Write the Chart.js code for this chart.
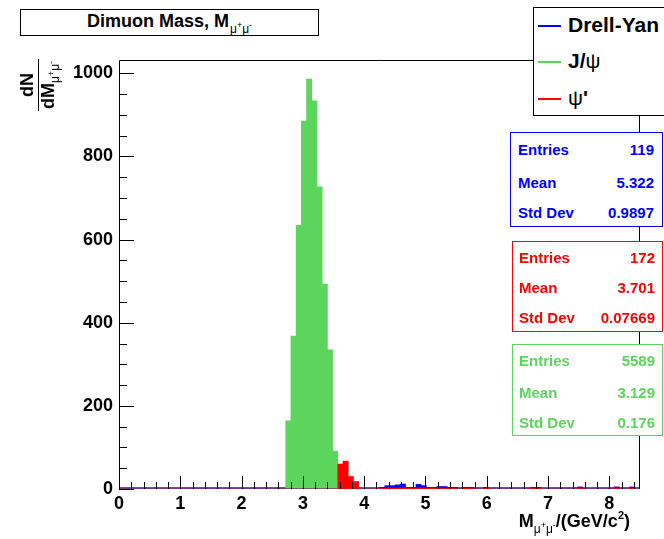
<!DOCTYPE html>
<html><head><meta charset="utf-8">
<script src="https://cdn.jsdelivr.net/npm/chart.js@4/dist/chart.umd.min.js"></script>
<style>
html,body{margin:0;padding:0;background:#fff;}
#wrap{position:relative;width:664px;height:539px;overflow:hidden;font-family:"Liberation Sans",Arial,Helvetica,sans-serif;font-weight:bold;color:#000;}
canvas{position:absolute;left:0;top:0;}
.box{position:absolute;background:#fff;box-sizing:border-box;}
.row{position:absolute;left:0;right:0;height:18px;font-size:15px;line-height:18px;white-space:nowrap;}
.row .k{position:absolute;}
.row .v{position:absolute;}
.sm{font-size:12px;font-weight:normal;position:relative;}
.sp{font-size:9px;position:relative;top:-5px;}
.lg{position:absolute;left:0;right:0;height:24px;font-size:21px;line-height:24px;white-space:nowrap;}
.lg .ln{position:absolute;left:4px;width:23px;height:1.5px;top:12px;}
.lg .tx{position:absolute;left:34px;}
</style>
</head><body>
<div id="wrap">
<canvas id="c" width="664" height="539"></canvas>

<div class="box" style="left:20px;top:9px;width:299px;height:27px;border:1px solid #000;">
  <div style="position:absolute;left:0;right:0;top:1px;text-align:center;font-size:18px;line-height:20px;white-space:nowrap;">Dimuon Mass, M<span class="sm" style="top:6px;margin-left:1px;">&mu;<span class="sp">+</span>&mu;<span class="sp">-</span></span></div>
</div>

<div id="legend" class="box" style="left:533px;top:7px;width:150px;height:109px;border:1px solid #000;"></div>
<div id="stats"></div>

<div style="position:absolute;left:10px;top:65px;width:56px;height:40px;transform:rotate(-90deg);transform-origin:28px 20px;">
  <div style="position:absolute;left:0;right:0;top:0;height:19px;text-align:center;font-size:18px;line-height:19px;">dN</div>
  <div style="position:absolute;left:2px;right:2px;top:20px;height:1px;background:#000;"></div>
  <div style="position:absolute;left:0;right:0;top:21px;height:19px;text-align:center;font-size:18px;line-height:19px;white-space:nowrap;">dM<span class="sm" style="top:5px;">&mu;<span class="sp">+</span>&mu;<span class="sp">-</span></span></div>
</div>

<div style="position:absolute;right:34px;top:511px;font-size:18px;line-height:20px;white-space:nowrap;">M<span class="sm" style="top:6px;">&mu;<span class="sp">+</span>&mu;<span class="sp">-</span></span>/(GeV/c<span style="font-size:11px;position:relative;top:-8px;">2</span>)</div>
</div>

<script>
// ---- data ----
const nBins = 100;
const xMin = 0, xMax = 8.5;
const xTickLabels = ["0","1","2","3","4","5","6","7","8"];
const yTickValues = [0,200,400,600,800,1000];

// J/psi: bins 32..41
const jpsiBins   = [32,33,34,35,36,37,38,39,40,41];
const jpsiCounts = [164,368,634,885,986,934,727,493,335,91];

// psi': main peak bins 42..45 plus small counts further out
const psiBins   = [42,43,44,45,50,51,52,53,54,55,56,57,58,59,60,61,62,63,64,66,67,70,79,80,88,95,98];
const psiCounts = [60,67,30,18,2.5,2.5,2.5,2.5,2.5,2.5,2.5,2.5,2.5,2.5,2.5,2.5,2.5,2.5,2.5,2.5,2.5,2.5,2.5,2.5,2.5,2.5,2.5];

// Drell-Yan
const dyBins   = [50,51,52,53,54,55,56,57,58,59,60,61,62,63,64,66,67,70,79,80,88,95,98];
const dyCounts = [4,8,8,10,12,4,4,11,8,4,4,6,6,4,4,4,4,4,4,4,5,5,5];

const seriesNames = ["Drell-Yan","J/\u03c8","\u03c8'"];
const seriesColors = ["#0000ff","#5bd55b","#ff0000"];

const statLabels = ["Entries","Mean","Std Dev"];
const statsDY   = ["119","5.322","0.9897"];
const statsPsi2 = ["172","3.701","0.07669"];
const statsJpsi = ["5589","3.129","0.176"];

// ---- build full histograms ----
function fill(bins, counts){
  const a = new Array(nBins).fill(0);
  bins.forEach((b,i)=>{ a[b] = counts[i]; });
  return a;
}
const binLabels = [];
for (let i=0;i<nBins;i++) binLabels.push((xMin + i*(xMax-xMin)/nBins).toFixed(3));

Chart.defaults.font.family = '"Liberation Sans", Arial, Helvetica, sans-serif';
Chart.defaults.font.weight = 'bold';
Chart.defaults.font.size = 18;
Chart.defaults.color = '#000';

const decor = {
  id:'decor',
  beforeDatasetsDraw(chart){
    const {ctx, chartArea:a, scales} = chart;
    const y0 = scales.y.getPixelForValue(0);
    ctx.save();
    ctx.strokeStyle = '#4d4dff'; ctx.lineWidth = 2;
    ctx.beginPath(); ctx.moveTo(a.left, y0-1); ctx.lineTo(a.right, y0-1); ctx.stroke();
    ctx.restore();
  },
  afterDatasetsDraw(chart){
    const {ctx, chartArea:a, scales} = chart;
    const xs = scales.xv, ys = scales.y;
    const y0 = ys.getPixelForValue(0);
    ctx.save();
    ctx.strokeStyle = '#000'; ctx.lineWidth = 1;
    ctx.beginPath();
    // frame
    ctx.moveTo(a.left+0.5, a.bottom); ctx.lineTo(a.left+0.5, a.top+0.5);
    ctx.lineTo(a.right-0.5, a.top+0.5); ctx.lineTo(a.right-0.5, a.bottom);
    // x ticks
    for (let k=0;k<=42;k++){
      const v = k*0.2;
      if (v > xMax) break;
      const px = Math.round(xs.getPixelForValue(v))+0.5;
      const len = (k%5===0) ? 13 : 7;
      ctx.moveTo(px, y0); ctx.lineTo(px, y0-len);
    }
    // y ticks
    for (let v=0; v<=1000; v+=50){
      const py = Math.round(ys.getPixelForValue(v))+0.5;
      const len = (v%200===0) ? 15 : 8;
      ctx.moveTo(a.left, py); ctx.lineTo(a.left+len, py);
    }
    ctx.stroke();
    ctx.restore();
  }
};

new Chart(document.getElementById('c'), {
  type:'bar',
  data:{
    labels: binLabels,
    datasets:[
      {label:seriesNames[2], data:fill(psiBins, psiCounts), backgroundColor:seriesColors[2], borderWidth:0},
      {label:seriesNames[0], data:fill(dyBins, dyCounts), backgroundColor:seriesColors[0], borderWidth:0},
      {label:seriesNames[1], data:fill(jpsiBins, jpsiCounts), backgroundColor:seriesColors[1], borderWidth:0}
    ]
  },
  options:{
    responsive:false, animation:false,
    layout:{padding:{left:0, top:60, right:24, bottom:0}},
    plugins:{legend:{display:false}, tooltip:{enabled:false}, title:{display:false}},
    datasets:{bar:{grouped:false, barPercentage:1, categoryPercentage:1}},
    scales:{
      x:{type:'category', display:false, offset:true},
      xv:{type:'linear', axis:'x', position:'bottom', min:xMin, max:xMax, offset:false,
          grid:{display:false, drawTicks:false, offset:false}, border:{display:false},
          ticks:{stepSize:1, includeBounds:false, padding:4, maxRotation:0, autoSkip:false,
                 callback:(v)=> (Number.isInteger(v) && xTickLabels[v] !== undefined) ? xTickLabels[v] : ''},
          afterFit:(s)=>{ s.height = 50; }},
      y:{type:'linear', min:0, max:1032,
         grid:{display:false, drawTicks:false}, border:{display:false},
         afterBuildTicks:(s)=>{ s.ticks = yTickValues.map(v=>({value:v})); },
         ticks:{padding:6, includeBounds:false, callback:(v)=> String(v)},
         afterFit:(s)=>{ s.width = 119; }}
    }
  },
  plugins:[decor]
});

// ---- legend ----
const lg = document.getElementById('legend');
const legendRows = [{i:0, top:5},{i:1, top:41},{i:2, top:78}];
legendRows.forEach(r=>{
  const d = document.createElement('div'); d.className='lg'; d.style.top = r.top+'px';
  const ln = document.createElement('div'); ln.className='ln'; ln.style.background = seriesColors[r.i];
  const tx = document.createElement('span'); tx.className='tx';
  const name = seriesNames[r.i];
  if (r.i===0) tx.textContent = name;
  else if (r.i===1) tx.innerHTML = 'J/<span style="font-weight:normal">\u03c8</span>';
  else tx.innerHTML = '<span style="font-weight:normal">\u03c8</span>\'';
  d.appendChild(ln); d.appendChild(tx); lg.appendChild(d);
});

// ---- stats boxes ----
const statBoxes = [
  {vals:statsDY,   color:'#0000ff', left:510, top:132, w:153, h:95, rows:[8,41,71], kx:7, vx:8},
  {vals:statsPsi2, color:'#ff0000', left:512, top:241, w:151, h:91, rows:[7,37,67], kx:6, vx:7},
  {vals:statsJpsi, color:'#5bd55b', left:512, top:344, w:151, h:92, rows:[7,39,69], kx:6, vx:7}
];
const st = document.getElementById('stats');
statBoxes.forEach(b=>{
  const box = document.createElement('div'); box.className='box';
  Object.assign(box.style,{left:b.left+'px', top:b.top+'px', width:b.w+'px', height:b.h+'px', border:'1px solid '+b.color, color:b.color});
  statLabels.forEach((lab,i)=>{
    const r = document.createElement('div'); r.className='row'; r.style.top = b.rows[i]+'px';
    const k = document.createElement('span'); k.className='k'; k.style.left=b.kx+'px'; k.textContent = lab;
    const v = document.createElement('span'); v.className='v'; v.style.right=b.vx+'px'; v.textContent = b.vals[i];
    r.appendChild(k); r.appendChild(v); box.appendChild(r);
  });
  st.appendChild(box);
});
</script>
</body></html>
